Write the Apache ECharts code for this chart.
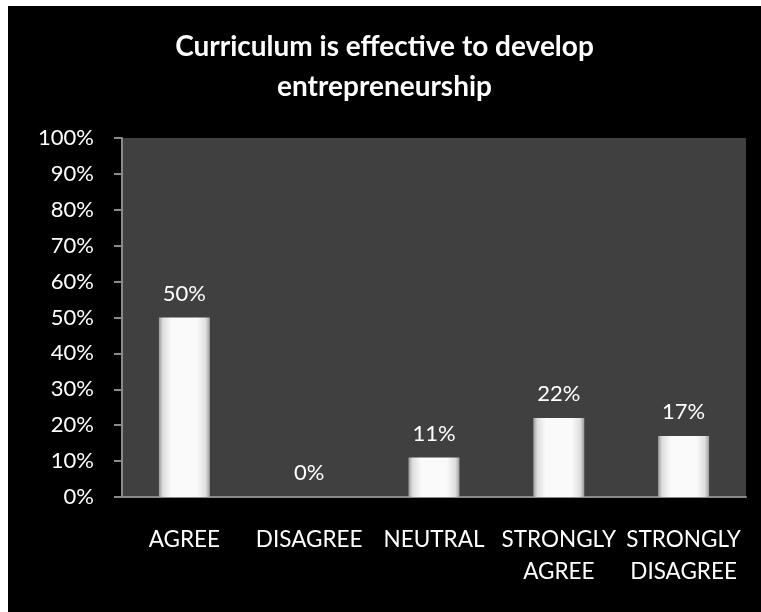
<!DOCTYPE html>
<html>
<head>
<meta charset="utf-8">
<script src="https://cdn.jsdelivr.net/npm/echarts@6/dist/echarts.min.js"></script>
<style>
  html, body { margin: 0; padding: 0; background: #fff; }
  #chart { position: absolute; left: 8px; top: 6px; width: 753px; height: 606px; }
</style>
</head>
<body>
<div id="chart"></div>
<script>
// data
var categories = ['AGREE', 'DISAGREE', 'NEUTRAL', 'STRONGLY\nAGREE', 'STRONGLY\nDISAGREE'];
var values = [50, 0, 11, 22, 17];
var titleText = 'Curriculum is effective to develop\nentrepreneurship';

var chart = echarts.init(document.getElementById('chart'));

// bar fill: white cylinder look, darker at the edges
var barFill = new echarts.graphic.LinearGradient(0, 0, 1, 0, [
  { offset: 0, color: '#9a9a9a' },
  { offset: 0.08, color: '#dedede' },
  { offset: 0.25, color: '#fafafa' },
  { offset: 0.75, color: '#fafafa' },
  { offset: 0.92, color: '#dedede' },
  { offset: 1, color: '#9a9a9a' }
]);

var option = {
  backgroundColor: '#000',
  animation: false,
  title: {
    text: titleText,
    left: 'center',
    top: 16,
    textStyle: {
      color: '#fff',
      fontFamily: 'Lato',
      fontWeight: 'bold',
      fontSize: 28,
      lineHeight: 40
    }
  },
  grid: {
    left: 114,
    right: 15,
    top: 132,
    bottom: 115,
    show: true,
    backgroundColor: '#404040',
    borderWidth: 0
  },
  xAxis: {
    type: 'category',
    data: categories,
    axisLine: { lineStyle: { color: '#8a8a8a', width: 2 } },
    axisTick: { show: false },
    axisLabel: {
      color: '#fff',
      fontFamily: 'Lato',
      fontSize: 22.5,
      lineHeight: 32,
      margin: 27,
      interval: 0
    }
  },
  yAxis: {
    type: 'value',
    min: 0,
    max: 100,
    interval: 10,
    axisLine: { show: true, lineStyle: { color: '#8a8a8a', width: 2 } },
    axisTick: { show: true, length: 8, lineStyle: { color: '#8a8a8a', width: 2 } },
    splitLine: { show: false },
    axisLabel: {
      color: '#fff',
      fontFamily: 'Lato',
      fontSize: 22,
      margin: 28,
      formatter: '{value}%'
    }
  },
  series: [{
    type: 'bar',
    data: values,
    barWidth: 51,
    itemStyle: { color: barFill },
    label: {
      show: true,
      position: 'top',
      distance: 13,
      color: '#fff',
      fontFamily: 'Lato',
      fontSize: 22,
      formatter: '{c}%'
    }
  }]
};

chart.setOption(option);
</script>
</body>
</html>
